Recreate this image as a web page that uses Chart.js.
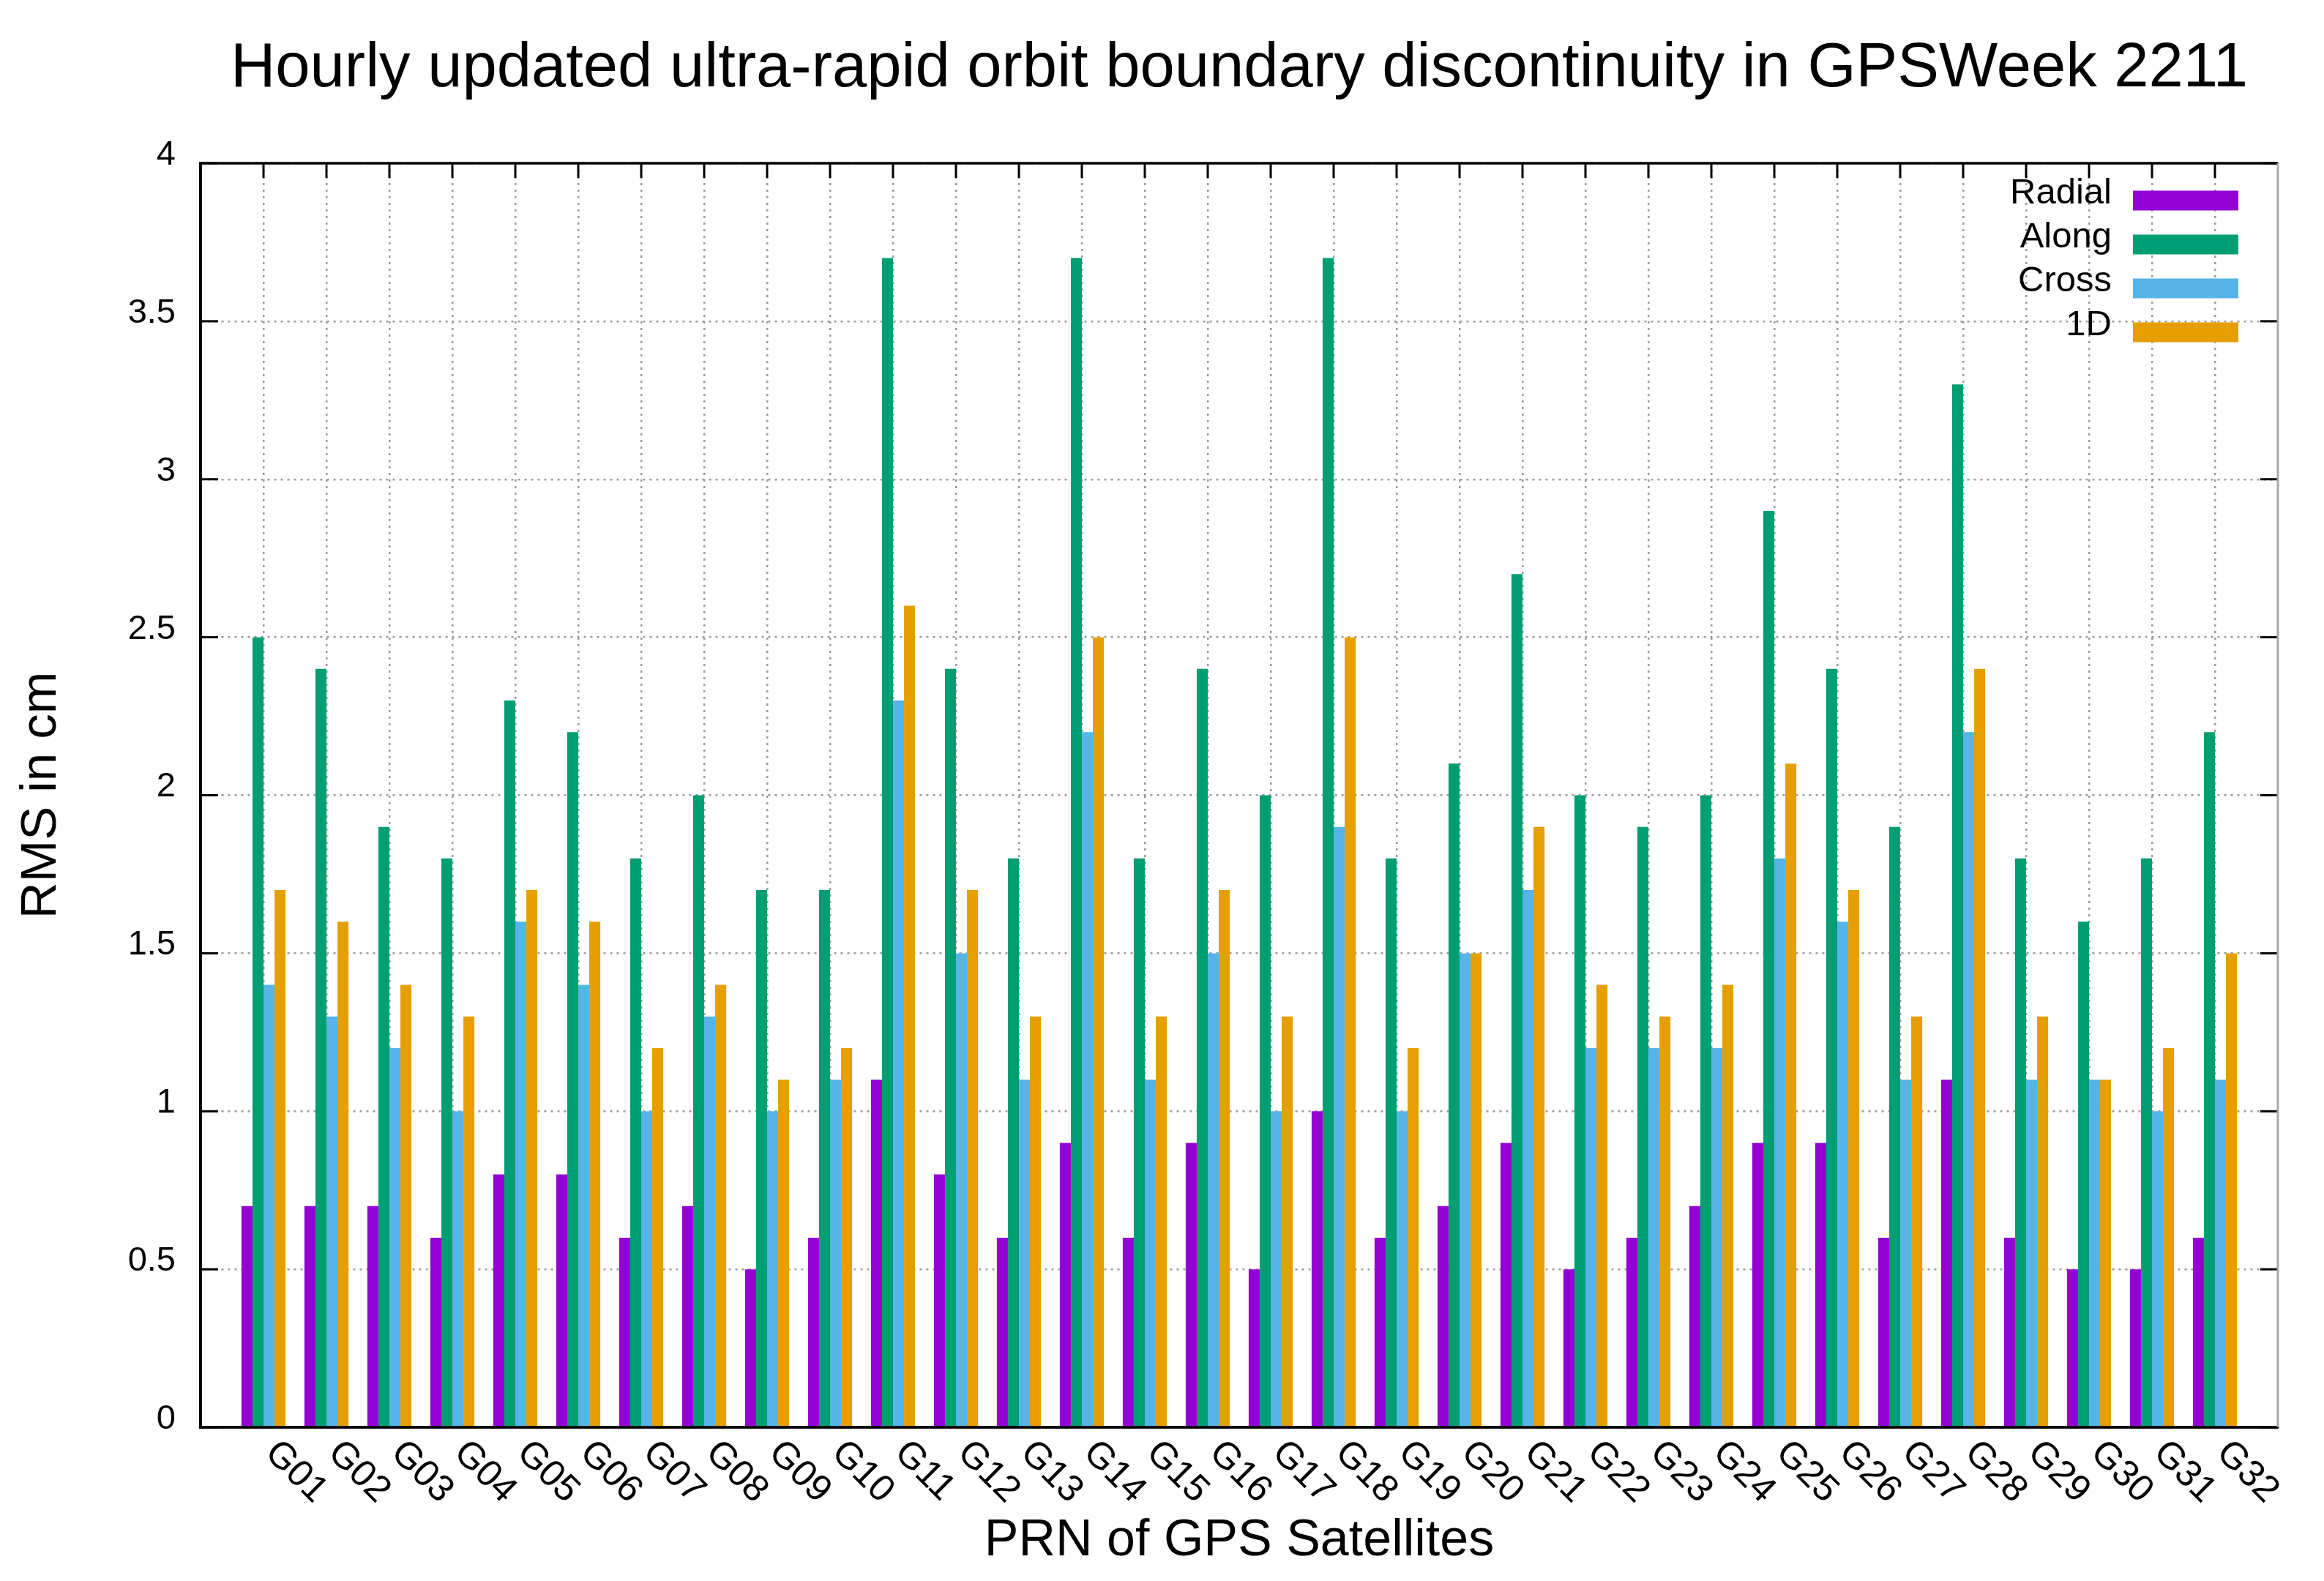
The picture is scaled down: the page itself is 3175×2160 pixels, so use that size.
<!DOCTYPE html>
<html>
<head>
<meta charset="utf-8">
<script src="https://cdn.jsdelivr.net/npm/chart.js@4.4.1/dist/chart.umd.min.js"></script>
<style>
html,body{margin:0;padding:0;background:#ffffff;}
#wrap{width:3175px;height:2160px;position:relative;background:#ffffff;}
</style>
</head>
<body>
<div id="wrap"><canvas id="c"></canvas></div>
<script>
const categories = ['G01','G02','G03','G04','G05','G06','G07','G08','G09','G10','G11','G12','G13','G14','G15','G16',
                    'G17','G18','G19','G20','G21','G22','G23','G24','G25','G26','G27','G28','G29','G30','G31','G32'];
const radial = [0.7,0.7,0.7,0.6,0.8,0.8,0.6,0.7,0.5,0.6,1.1,0.8,0.6,0.9,0.6,0.9,
                0.5,1.0,0.6,0.7,0.9,0.5,0.6,0.7,0.9,0.9,0.6,1.1,0.6,0.5,0.5,0.6];
const along  = [2.5,2.4,1.9,1.8,2.3,2.2,1.8,2.0,1.7,1.7,3.7,2.4,1.8,3.7,1.8,2.4,
                2.0,3.7,1.8,2.1,2.7,2.0,1.9,2.0,2.9,2.4,1.9,3.3,1.8,1.6,1.8,2.2];
const cross  = [1.4,1.3,1.2,1.0,1.6,1.4,1.0,1.3,1.0,1.1,2.3,1.5,1.1,2.2,1.1,1.5,
                1.0,1.9,1.0,1.5,1.7,1.2,1.2,1.2,1.8,1.6,1.1,2.2,1.1,1.1,1.0,1.1];
const oneD   = [1.7,1.6,1.4,1.3,1.7,1.6,1.2,1.4,1.1,1.2,2.6,1.7,1.3,2.5,1.3,1.7,
                1.3,2.5,1.2,1.5,1.9,1.4,1.3,1.4,2.1,1.7,1.3,2.4,1.3,1.1,1.2,1.5];
const seriesNames  = ['Radial','Along','Cross','1D'];
const seriesColors = ['#9400d3','#009e73','#56b4e9','#e69f00'];
const yTickValues = [0,0.5,1,1.5,2,2.5,3,3.5,4];
const titleText = 'Hourly updated ultra-rapid orbit boundary discontinuity in GPSWeek 2211';
const xTitle = 'PRN of GPS Satellites';
const yTitle = 'RMS in cm';

const FONT = "'Liberation Sans', Arial, Helvetica, sans-serif";
const seriesValues = [radial, along, cross, oneD];

const datasets = seriesValues.map((vals, k) => ({
  label: seriesNames[k],
  data: vals.map((v, i) => ({x: i, y: v})),
  backgroundColor: seriesColors[k],
  borderWidth: 0,
  categoryPercentage: 0.7,
  barPercentage: 1.0
}));

const gridStyle = {color: '#9a9a9a', lineWidth: 2.5, drawTicks: false, offset: false};
const borderStyle = {display: true, color: '#000', width: 3.5, dash: [3, 6]};

const customDraw = {
  id: 'customDraw',
  afterDatasetsDraw(chart) {
    const {ctx, chartArea: a, scales: {x, y}} = chart;
    const line = (x1, y1, x2, y2) => { ctx.beginPath(); ctx.moveTo(x1, y1); ctx.lineTo(x2, y2); ctx.stroke(); };
    ctx.save();
    ctx.setLineDash([]);
    // inward tick marks
    ctx.strokeStyle = '#000'; ctx.lineWidth = 3;
    y.ticks.forEach(t => {
      const py = y.getPixelForValue(t.value);
      line(a.left, py, a.left + 24, py);
      line(a.right - 24, py, a.right, py);
    });
    x.ticks.forEach(t => {
      const px = x.getPixelForValue(t.value);
      line(px, a.top, px, a.top + 20);
    });
    // axis lines (solid)
    ctx.lineWidth = 3.5; ctx.strokeStyle = '#000';
    line(a.left - 1.5, a.top, a.right, a.top);
    line(a.left, a.top, a.left, a.bottom + 1.5);
    line(a.left, a.bottom, a.right, a.bottom);
    ctx.lineWidth = 3; ctx.strokeStyle = '#a8a8a8';
    line(a.right, a.top, a.right, a.bottom);
    // rotated x tick labels
    ctx.fillStyle = '#000';
    ctx.font = '51px ' + FONT;
    ctx.textAlign = 'left'; ctx.textBaseline = 'middle';
    x.ticks.forEach(t => {
      const px = x.getPixelForValue(t.value);
      ctx.save();
      ctx.translate(px + 10, a.bottom + 27);
      ctx.rotate(Math.PI / 4);
      ctx.fillText(categories[t.value], 0, 0);
      ctx.restore();
    });
    // legend (text left of sample box)
    ctx.font = '49px ' + FONT;
    ctx.textAlign = 'right'; ctx.textBaseline = 'middle';
    chart.data.datasets.forEach((ds, i) => {
      const cy = a.top + 51 + i * 60;
      ctx.fillStyle = ds.backgroundColor;
      ctx.fillRect(a.right - 198, cy - 13.5, 144, 27);
      ctx.fillStyle = '#000';
      ctx.fillText(ds.label, a.right - 227, cy - 10);
    });
    ctx.restore();
  }
};

new Chart(document.getElementById('c'), {
  type: 'bar',
  data: {datasets},
  options: {
    responsive: true,
    maintainAspectRatio: false,
    devicePixelRatio: 1,
    animation: false,
    layout: {padding: {left: 0, right: 63, top: 0, bottom: 0}},
    plugins: {
      legend: {display: false},
      tooltip: {enabled: false},
      title: {
        display: true,
        text: titleText,
        fullSize: false,
        color: '#000',
        font: {family: FONT, size: 85, weight: 'normal', lineHeight: 1.2},
        padding: {top: 44, bottom: 77}
      }
    },
    scales: {
      x: {
        type: 'linear',
        offset: false,
        min: -1,
        max: 32,
        afterBuildTicks: s => { s.ticks = categories.map((c, i) => ({value: i})); },
        afterFit: s => { s.height = 210; },
        ticks: {display: false},
        grid: gridStyle,
        border: borderStyle,
        title: {display: true, text: xTitle, color: '#000',
                font: {family: FONT, size: 70, weight: 'normal', lineHeight: 1.2},
                padding: {top: 0, bottom: 12}}
      },
      y: {
        min: 0,
        max: 4,
        afterBuildTicks: s => { s.ticks = yTickValues.map(v => ({value: v})); },
        afterFit: s => { s.width = 274; },
        ticks: {color: '#000', font: {family: FONT, size: 47}, padding: 34, labelOffset: -11,
                callback: v => String(v)},
        grid: gridStyle,
        border: borderStyle,
        title: {display: true, text: yTitle, color: '#000',
                font: {family: FONT, size: 69, weight: 'normal', lineHeight: 1.2},
                padding: {top: 16, bottom: 0}}
      }
    }
  },
  plugins: [customDraw]
});
</script>
</body>
</html>
